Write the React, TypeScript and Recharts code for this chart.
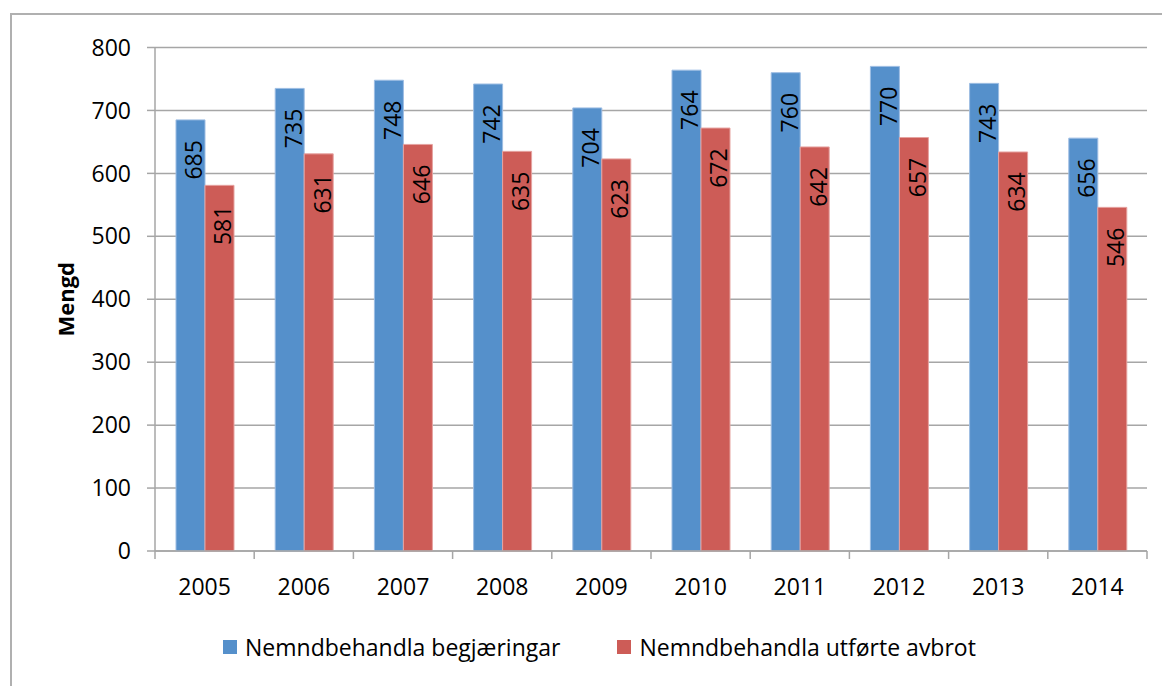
import React from "react";
import {
  Bar,
  BarChart,
  CartesianGrid,
  LabelList,
  Legend,
  XAxis,
  YAxis,
} from "recharts";

const YEARS = ["2005", "2006", "2007", "2008", "2009", "2010", "2011", "2012", "2013", "2014"];
const BEGJARINGAR = [685, 735, 748, 742, 704, 764, 760, 770, 743, 656];
const AVBROT = [581, 631, 646, 635, 623, 672, 642, 657, 634, 546];
const Y_TICKS = [0, 100, 200, 300, 400, 500, 600, 700, 800];

const SERIES = [
  { key: "begjaringar", name: "Nemndbehandla begjæringar", color: "#5590cb", edge: "#9dbde3" },
  { key: "avbrot", name: "Nemndbehandla utførte avbrot", color: "#cd5c57", edge: "#e6a3a0" },
];

const data = YEARS.map((year, i) => ({
  year,
  begjaringar: BEGJARINGAR[i],
  avbrot: AVBROT[i],
}));

const W = 1162;
const H = 678;
const M = { top: 39.5, right: 23, left: 0, bottom: 24 };
const Y_W = 147;
const BAND = (W - M.right - Y_W) / YEARS.length;
const GRID = "#a6a6a6";
const FONT = "'Open Sans', Lato, sans-serif";
const TXT = { fontSize: 23, fill: "#000", fontFamily: FONT };

function XTick(props: any) {
  const { x, y, payload, index } = props;
  const left = x - BAND / 2;
  const last = index === YEARS.length - 1;
  return (
    <g>
      <line x1={left} x2={left} y1={y - 8} y2={y} stroke={GRID} strokeWidth={1.5} />
      {last && (
        <line x1={left + BAND} x2={left + BAND} y1={y - 8} y2={y} stroke={GRID} strokeWidth={1.5} />
      )}
      <text x={x} y={y + 36} textAnchor="middle" {...TXT}>
        {payload.value}
      </text>
    </g>
  );
}

function BarLabel(props: any) {
  const { x, y, width, value } = props;
  const cx = x + width / 2 + 3;
  const cy = y + 40;
  return (
    <text
      x={cx}
      y={cy}
      textAnchor="middle"
      dominantBaseline="central"
      transform={`rotate(-90 ${cx} ${cy})`}
      {...TXT}
    >
      {value}
    </text>
  );
}

function LegendBox() {
  return (
    <div
      style={{
        display: "flex",
        alignItems: "center",
        height: 30,
        paddingLeft: 215,
        fontFamily: FONT,
        fontSize: 23,
        color: "#000",
      }}
    >
      {SERIES.map((s, i) => (
        <div
          key={s.key}
          style={{ display: "flex", alignItems: "center", marginRight: i === 0 ? 57 : 0 }}
        >
          <span
            style={{ display: "inline-block", width: 14, height: 14, background: s.color, marginRight: 8 }}
          />
          <span>{s.name}</span>
        </div>
      ))}
    </div>
  );
}

export default function App() {
  return (
    <div style={{ position: "relative", width: W, height: H, overflow: "hidden", fontFamily: FONT }}>
      <div
        style={{
          position: "absolute",
          left: 2,
          top: 5,
          width: 1300,
          height: 900,
          border: "2px solid #b0b0b0",
        }}
      />
      <div style={{ position: "absolute", left: 0, top: 0 }}>
        <BarChart
          width={W}
          height={H}
          data={data}
          margin={M}
          barCategoryGap={21}
          barGap={0}
        >
          <CartesianGrid vertical={false} stroke={GRID} strokeWidth={1.5} />
          <XAxis
            dataKey="year"
            axisLine={{ stroke: GRID, strokeWidth: 1.5 }}
            tickLine={false}
            tickSize={8}
            tickMargin={0}
            height={81}
            interval={0}
            tick={(p: any) => <XTick {...p} />}
          />
          <YAxis
            width={Y_W}
            domain={[0, 800]}
            ticks={Y_TICKS}
            interval={0}
            axisLine={{ stroke: GRID, strokeWidth: 1.5 }}
            tickLine={{ stroke: GRID, strokeWidth: 1.5 }}
            tickSize={8}
            tickMargin={16}
            tick={TXT}
            label={{
              content: (p: any) => {
                const vb = p.viewBox;
                const cy = vb.y + vb.height / 2;
                return (
                  <text
                    x={57}
                    y={cy}
                    textAnchor="middle"
                    dominantBaseline="central"
                    transform={`rotate(-90 57 ${cy})`}
                    style={{ fontWeight: 700, fontSize: 22, fontFamily: FONT }}
                    fill="#000"
                  >
                    Mengd
                  </text>
                );
              },
            }}
          />
          <Legend
            verticalAlign="bottom"
            wrapperStyle={{ left: 0, width: W }}
            content={() => <LegendBox />}
          />
          {SERIES.map((s) => (
            <Bar
              key={s.key}
              dataKey={s.key}
              name={s.name}
              fill={s.color}
              stroke={s.edge}
              strokeWidth={1}
              isAnimationActive={false}
            >
              <LabelList dataKey={s.key} content={(p: any) => <BarLabel {...p} />} />
            </Bar>
          ))}
        </BarChart>
      </div>
    </div>
  );
}
